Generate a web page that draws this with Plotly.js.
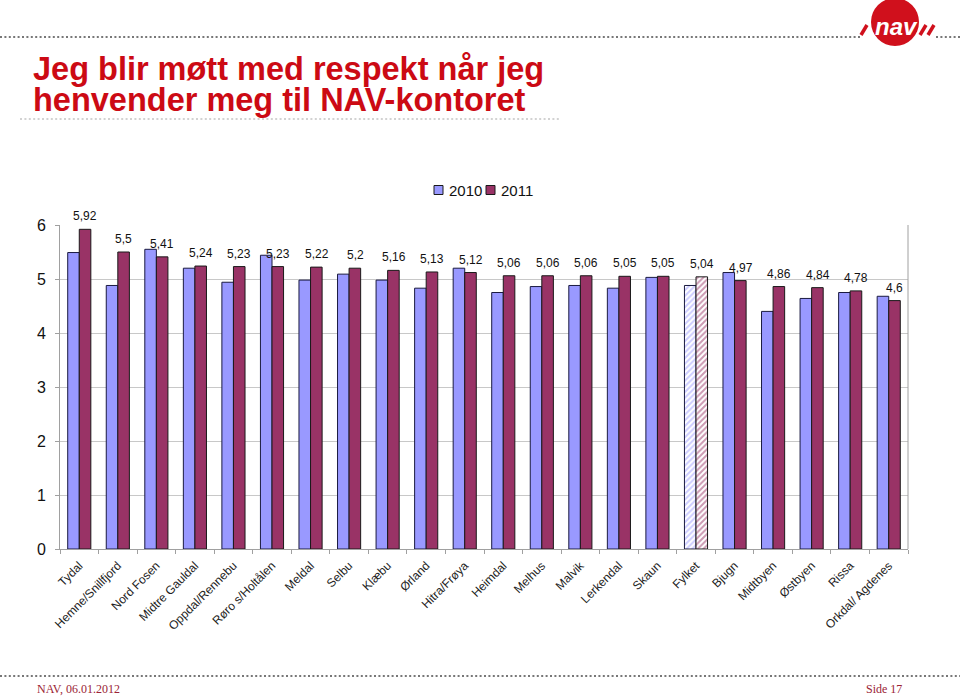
<!DOCTYPE html>
<html>
<head>
<meta charset="utf-8">
<script src="https://cdn.plot.ly/plotly-3.0.1.min.js"></script>
<style>html,body{margin:0;padding:0;background:#fff;}#chart{width:960px;height:698px;}</style>
</head>
<body>
<div id="chart"></div>
<script>
const categories = ["Tydal","Hemne/Snillfjord","Nord Fosen","Midtre Gauldal","Oppdal/Rennebu","Røro s/Holtålen","Meldal","Selbu","Klæbu","Ørland","Hitra/Frøya","Heimdal","Melhus","Malvik","Lerkendal","Skaun","Fylket","Bjugn","Midtbyen","Østbyen","Rissa","Orkdal/ Agdenes"];
const values2010 = [5.49,4.88,5.55,5.20,4.94,5.44,4.98,5.09,4.98,4.83,5.20,4.75,4.86,4.88,4.83,5.03,4.88,5.12,4.40,4.64,4.75,4.68];
const values2011 = [5.92,5.5,5.41,5.24,5.23,5.23,5.22,5.2,5.16,5.13,5.12,5.06,5.06,5.06,5.05,5.05,5.04,4.97,4.86,4.84,4.78,4.6];
const labels2011 = ["5,92","5,5","5,41","5,24","5,23","5,23","5,22","5,2","5,16","5,13","5,12","5,06","5,06","5,06","5,05","5,05","5,04","4,97","4,86","4,84","4,78","4,6"];
const seriesNames = ["2010","2011"];
const highlighted = "Fylket";

const c2010 = "#9999FF", c2011 = "#993366";
const L = 60, R = 908, T = 225, B = 549;
const px = x => (x - L) / (R - L);
const py = y => (B - y) / (B - T);
const patt = categories.map(c => c === highlighted ? "/" : "");
const FONT = "Liberation Sans, Arial, sans-serif";

const trace1 = {
  type: "bar", name: seriesNames[0], x: categories, y: values2010, showlegend: false,
  marker: {color: c2010, line: {color: "#1a1a40", width: 1},
    pattern: {shape: patt, fgcolor: c2010, bgcolor: "#ffffff", fillmode: "overlay", size: 4, solidity: 0.5}},
  hoverinfo: "skip"
};
const trace2 = {
  type: "bar", name: seriesNames[1], x: categories, y: values2011, showlegend: false,
  marker: {color: c2011, line: {color: "#1a1a1a", width: 1},
    pattern: {shape: patt, fgcolor: c2011, bgcolor: "#ffffff", fillmode: "overlay", size: 4, solidity: 0.5}},
  hoverinfo: "skip"
};

const annotations = categories.map((c, i) => ({
  x: c, y: values2011[i], xref: "x", yref: "y", text: labels2011[i],
  showarrow: false, xanchor: "center", yanchor: "bottom", xshift: 6, yshift: 4,
  font: {family: FONT, size: 12, color: "#111"}
}));
annotations.push(
  {xref: "paper", yref: "paper", x: px(31), y: py(69), xanchor: "left", yanchor: "middle", showarrow: false,
   text: "<b>Jeg blir møtt med respekt når jeg</b>", font: {family: FONT, size: 32.5, color: "#CC0A14"}},
  {xref: "paper", yref: "paper", x: px(31), y: py(100), xanchor: "left", yanchor: "middle", showarrow: false,
   text: "<b>henvender meg til NAV-kontoret</b>", font: {family: FONT, size: 32.5, color: "#CC0A14"}},
  {xref: "paper", yref: "paper", x: px(896), y: py(27), xanchor: "center", yanchor: "middle", showarrow: false,
   text: "<b><i>nav</i></b>", font: {family: FONT, size: 24, color: "#ffffff"}},
  {xref: "paper", yref: "paper", x: px(35), y: py(689), xanchor: "left", yanchor: "middle", showarrow: false,
   text: "NAV, 06.01.2012", font: {family: "Liberation Serif, Times New Roman, serif", size: 12, color: "#9B2335"}},
  {xref: "paper", yref: "paper", x: px(904), y: py(689), xanchor: "right", yanchor: "middle", showarrow: false,
   text: "Side 17", font: {family: "Liberation Serif, Times New Roman, serif", size: 12, color: "#9B2335"}},
  {xref: "paper", yref: "paper", x: px(447), y: py(190), xanchor: "left", yanchor: "middle", showarrow: false,
   text: seriesNames[0], font: {family: FONT, size: 15, color: "#111"}},
  {xref: "paper", yref: "paper", x: px(499), y: py(190), xanchor: "left", yanchor: "middle", showarrow: false,
   text: seriesNames[1], font: {family: FONT, size: 15, color: "#111"}}
);

const dotted = {color: "#777", width: 2, dash: "2px,2.4px"};
const logoRed = "#D0101C";
const shapes = [
  {type: "line", xref: "paper", yref: "paper", x0: px(0), x1: px(860), y0: py(37), y1: py(37), line: dotted},
  {type: "line", xref: "paper", yref: "paper", x0: px(936), x1: px(960), y0: py(37), y1: py(37), line: dotted},
  {type: "line", xref: "paper", yref: "paper", x0: px(0), x1: px(960), y0: py(676), y1: py(676), line: dotted},
  {type: "line", xref: "paper", yref: "paper", x0: px(20), x1: px(560), y0: py(119), y1: py(119), line: {color: "#c4c4c4", width: 1.5, dash: "2px,2.4px"}},
  {type: "circle", xref: "paper", yref: "paper", x0: px(871), x1: px(919), y0: py(46), y1: py(-2), fillcolor: logoRed, line: {width: 0}},
  {type: "line", xref: "paper", yref: "paper", x0: px(861), x1: px(867), y0: py(35), y1: py(25), line: {color: logoRed, width: 3.5}},
  {type: "line", xref: "paper", yref: "paper", x0: px(920), x1: px(926), y0: py(35), y1: py(25), line: {color: logoRed, width: 3.5}},
  {type: "line", xref: "paper", yref: "paper", x0: px(928), x1: px(934), y0: py(35), y1: py(25), line: {color: logoRed, width: 3.5}},
  {type: "line", xref: "paper", yref: "paper", x0: 1, x1: 1, y0: 0, y1: 1, line: {color: "#a0a0a0", width: 1}},
  {type: "rect", xref: "paper", yref: "paper", x0: px(434), x1: px(443), y0: py(194.5), y1: py(185.5), fillcolor: c2010, line: {color: "#1a1a1a", width: 1}},
  {type: "rect", xref: "paper", yref: "paper", x0: px(486), x1: px(495), y0: py(194.5), y1: py(185.5), fillcolor: c2011, line: {color: "#1a1a1a", width: 1}}
];

const layout = {
  width: 960, height: 698,
  margin: {l: L, r: 960 - R, t: T, b: 698 - B, pad: 0},
  paper_bgcolor: "#ffffff", plot_bgcolor: "#ffffff",
  barmode: "group", bargap: 0.4, bargroupgap: 0,
  showlegend: false,
  xaxis: {type: "category", tickangle: -45, showgrid: false, showline: true, linecolor: "#a0a0a0", linewidth: 1,
    ticks: "outside", ticklen: 4, tickcolor: "#a0a0a0", tickson: "boundaries", ticklabelstandoff: 4,
    tickfont: {family: FONT, size: 12, color: "#222"}},
  yaxis: {range: [0, 6], dtick: 1, showgrid: true, gridcolor: "#c8c8c8", gridwidth: 1, showline: true,
    linecolor: "#a0a0a0", linewidth: 1, ticks: "outside", ticklen: 4, tickcolor: "#a0a0a0", zeroline: false,
    ticklabelstandoff: 6,
    tickfont: {family: FONT, size: 16, color: "#111"}},
  annotations: annotations,
  shapes: shapes,
  font: {family: FONT}
};

Plotly.newPlot("chart", [trace1, trace2], layout, {displayModeBar: false, staticPlot: true});
</script>
</body>
</html>
